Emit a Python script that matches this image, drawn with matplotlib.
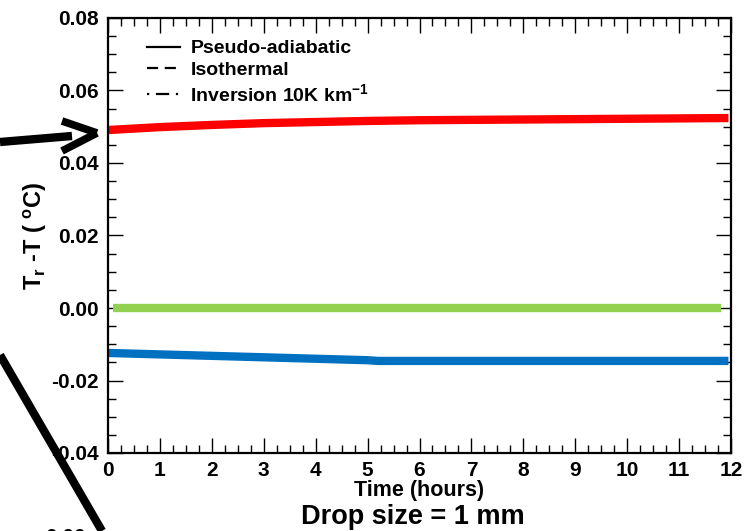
import matplotlib
matplotlib.use("Agg")
import matplotlib.pyplot as plt
from matplotlib.lines import Line2D
from matplotlib.ticker import MultipleLocator, FormatStrFormatter

plt.rcParams['font.family'] = ['Liberation Sans', 'DejaVu Sans']
plt.rcParams['font.weight'] = 'bold'
plt.rcParams['mathtext.fontset'] = 'custom'
plt.rcParams['mathtext.rm'] = 'Liberation Sans:bold'
plt.rcParams['mathtext.bf'] = 'Liberation Sans:bold'
plt.rcParams['mathtext.it'] = 'Liberation Sans:bold'
plt.rcParams['mathtext.default'] = 'bf'

# ---- data ----
red_t = [0, 1, 2, 3, 4, 5, 6, 8, 10, 11.95]
red_v = [0.0491, 0.0499, 0.0505, 0.0510, 0.0513, 0.0516, 0.0518, 0.0520, 0.0522, 0.0524]
green_t = [0.1, 11.8]
green_v = [0.0, 0.0]
blue_t = [0, 1, 2, 3, 4, 5, 5.2, 8, 11.95]
blue_v = [-0.0124, -0.0128, -0.0132, -0.0136, -0.0140, -0.0144, -0.0146, -0.0146, -0.0146]

legend_labels = ['Pseudo-adiabatic', 'Isothermal', 'Inversion 10K km$^{-1}$']
xlabel = 'Time (hours)'
ylabel = 'T$_{r}$ -T ( $^{o}$C)'
title_bottom = 'Drop size = 1 mm'

W, H = 746, 531
fig = plt.figure(figsize=(W / 100, H / 100), dpi=100)
ax = fig.add_axes([108 / W, 1 - 453 / H, (731 - 108) / W, (453 - 18) / H])

ax.plot(red_t, red_v, color='#ff0000', lw=6, solid_capstyle='butt')
ax.plot(green_t, green_v, color='#92d050', lw=6, solid_capstyle='butt')
ax.plot(blue_t, blue_v, color='#0070c0', lw=6, solid_capstyle='butt')

ax.set_xlim(0, 12)
ax.set_ylim(-0.04, 0.08)
ax.xaxis.set_major_locator(MultipleLocator(1))
ax.xaxis.set_minor_locator(MultipleLocator(0.25))
ax.yaxis.set_major_locator(MultipleLocator(0.02))
ax.yaxis.set_minor_locator(MultipleLocator(0.005))
ax.yaxis.set_major_formatter(FormatStrFormatter('%.2f'))
ax.tick_params(which='both', direction='in', top=True, right=True, labelsize=15, width=1)
ax.tick_params(which='major', length=11)
ax.tick_params(which='minor', length=5.5)
ax.tick_params(axis='x', pad=6)
ax.tick_params(axis='y', pad=7)
for lab in ax.get_xticklabels() + ax.get_yticklabels():
    lab.set_fontweight('bold')
for s in ax.spines.values():
    s.set_linewidth(1.6)

ax.set_xlabel(xlabel, fontsize=15.5, fontweight='bold', labelpad=0)
ax.set_ylabel(ylabel, fontsize=17, fontweight='bold', labelpad=1)

handles = [Line2D([], [], color='black', lw=1.6, ls='-'),
           Line2D([], [], color='black', lw=1.6, ls=(0, (5, 3))),
           Line2D([], [], color='black', lw=1.6, ls=(0, (1, 3, 6, 3)))]
leg = ax.legend(handles, legend_labels, loc='upper left', bbox_to_anchor=(0.062, 0.95),
                frameon=False, fontsize=14, borderpad=0, borderaxespad=0,
                handlelength=1.7, handletextpad=0.55, labelspacing=0.2)
for t in leg.get_texts():
    t.set_fontweight('bold')

fig.text(413 / W, 1 - 517 / H, title_bottom, fontsize=19.5, fontweight='bold',
         ha='center', va='center',
         bbox=dict(facecolor='white', edgecolor='none', pad=0.5))

# overlay annotations from the original composite figure (in figure pixels)
def px(x, y):
    return x / W, 1 - y / H

def seg(p0, p1, lw):
    (x0, y0), (x1, y1) = px(*p0), px(*p1)
    fig.add_artist(Line2D([x0, x1], [y0, y1], color='black', lw=lw,
                          transform=fig.transFigure, solid_capstyle='butt'))

seg((0, 142), (72, 136), 6)
seg((62, 121), (97, 133), 5.5)
seg((97, 133), (62, 151), 5.5)
seg((0, 355), (102, 531), 6)

fig.text(*px(65, 528), '0.00', fontsize=15, fontweight='bold', ha='center', va='top')

fig.savefig('out.png', dpi=100)
